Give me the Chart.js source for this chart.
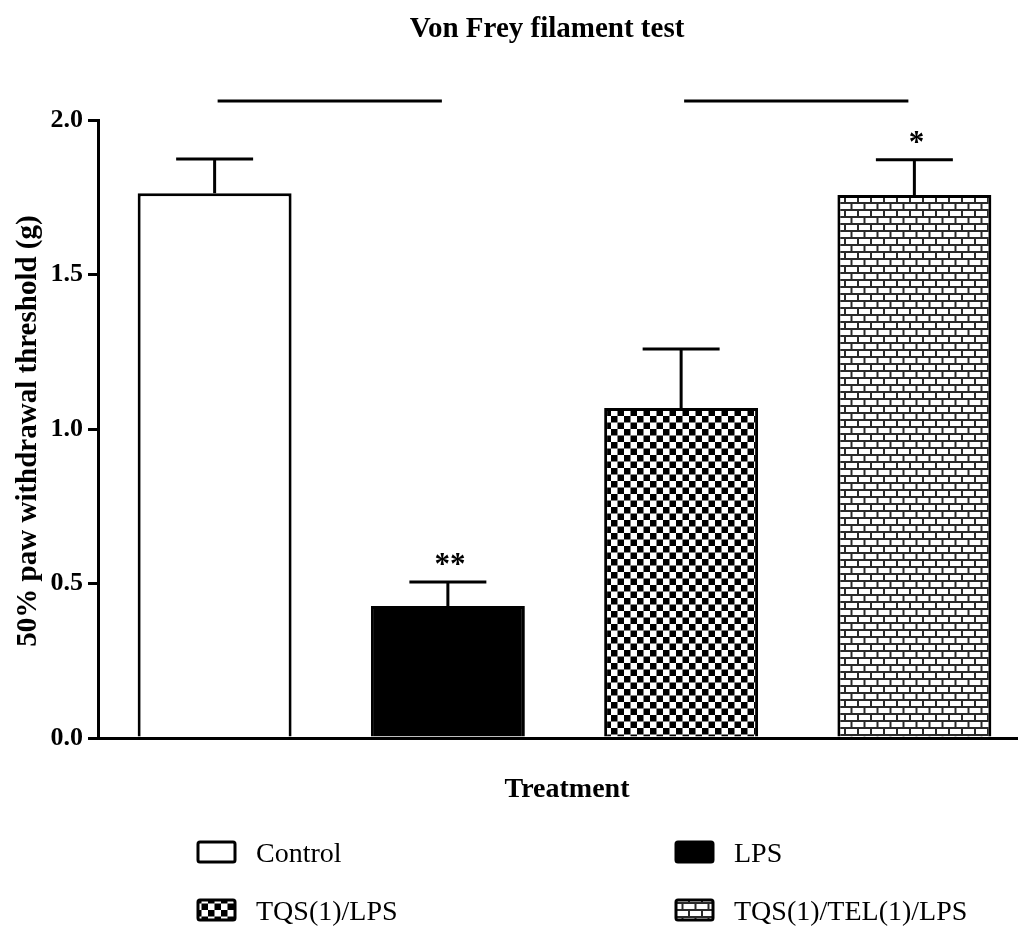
<!DOCTYPE html>
<html>
<head>
<meta charset="utf-8">
<script src="https://cdn.jsdelivr.net/npm/chart.js"></script>
<style>
  body { margin: 0; background: #fff; }
  #wrap { width: 1018px; height: 928px; overflow: hidden; }
</style>
</head>
<body>
<div id="wrap">
  <canvas id="vonfrey" width="1050" height="928" style="width:1050px;height:928px"></canvas>
</div>
<script>
const treatments = ['Control', 'LPS', 'TQS(1)/LPS', 'TQS(1)/TEL(1)/LPS'];
const thresholds = [1.763, 0.427, 1.068, 1.757];
const sem = [0.111, 0.078, 0.191, 0.114];
const marks = ['', '**', '', '*'];
const brackets = [[0, 1], [2, 3]];
const yTicks = [0, 0.5, 1.0, 1.5, 2.0];

const serif = "'Liberation Serif', 'Times New Roman', serif";

// fill patterns for the bars
function checkerPattern() {
  let c = document.createElement('canvas');
  c.width = 13; c.height = 13;
  let g = c.getContext('2d');
  g.fillStyle = '#fff';
  g.fillRect(0, 0, 13, 13);
  g.fillStyle = '#000';
  g.fillRect(0, 0, 6.5, 6.5);
  g.fillRect(6.5, 6.5, 6.5, 6.5);
  return g.createPattern(c, 'repeat');
}

function brickPattern() {
  let c = document.createElement('canvas');
  c.width = 13; c.height = 14;
  let g = c.getContext('2d');
  g.fillStyle = '#2a2a2a';
  g.fillRect(0, 0, 13, 14);
  g.fillStyle = '#fff';
  g.fillRect(1, 1, 11, 5);
  g.fillRect(7.5, 8, 11, 5);
  g.fillRect(-5.5, 8, 11, 5);
  return g.createPattern(c, 'repeat');
}

const fills = ['#ffffff', '#000000', checkerPattern(), brickPattern()];

// error bars (upper half only), asterisks and the comparison lines
const errorBars = {
  id: 'errorBars',
  afterDatasetsDraw(chart) {
    const ctx = chart.ctx;
    const y = chart.scales.y;
    const bars = chart.getDatasetMeta(0).data;
    ctx.save();
    ctx.strokeStyle = '#000';
    ctx.lineWidth = 3;
    bars.forEach((bar, i) => {
      const top = y.getPixelForValue(thresholds[i]);
      const errTop = y.getPixelForValue(thresholds[i] + sem[i]);
      const half = bar.width / 4;
      ctx.beginPath();
      ctx.moveTo(bar.x, top);
      ctx.lineTo(bar.x, errTop);
      ctx.moveTo(bar.x - half, errTop);
      ctx.lineTo(bar.x + half, errTop);
      ctx.stroke();
      if (marks[i]) {
        ctx.fillStyle = '#000';
        ctx.font = 'bold 31px ' + serif;
        ctx.textAlign = 'center';
        ctx.textBaseline = 'alphabetic';
        ctx.fillText(marks[i], bar.x + 2, errTop - 8);
      }
    });
    const lineY = chart.chartArea.top - 19;
    brackets.forEach(([a, b]) => {
      ctx.beginPath();
      ctx.moveTo(bars[a].x + 3, lineY);
      ctx.lineTo(bars[b].x - 6, lineY);
      ctx.stroke();
    });
    ctx.restore();
  }
};

// titles and the two-column legend underneath
const labelsAndLegend = {
  id: 'labelsAndLegend',
  afterDraw(chart) {
    const ctx = chart.ctx;
    const area = chart.chartArea;
    ctx.save();
    ctx.fillStyle = '#000';
    ctx.textBaseline = 'alphabetic';

    ctx.font = 'bold 29px ' + serif;
    ctx.textAlign = 'center';
    ctx.fillText('Von Frey filament test', 547, 37);
    ctx.font = 'bold 28px ' + serif;
    ctx.fillText('Treatment', 567, 797);

    ctx.save();
    ctx.translate(36, (area.top + area.bottom) / 2 + 2);
    ctx.rotate(-Math.PI / 2);
    ctx.font = 'bold 29px ' + serif;
    ctx.fillText('50% paw withdrawal threshold (g)', 0, 0);
    ctx.restore();

    const colX = [198, 676];
    const rowY = [842, 900];
    ctx.textAlign = 'left';
    ctx.font = '28px ' + serif;
    treatments.forEach((name, i) => {
      const x = colX[i % 2];
      const yTop = rowY[Math.floor(i / 2)];
      ctx.fillStyle = fills[i];
      ctx.beginPath();
      ctx.roundRect(x, yTop, 37, 20, 2);
      ctx.fill();
      ctx.lineWidth = 3;
      ctx.strokeStyle = '#000';
      ctx.stroke();
      ctx.fillStyle = '#000';
      ctx.fillText(name, x + 58, yTop + 20);
    });
    ctx.restore();
  }
};

new Chart(document.getElementById('vonfrey'), {
  type: 'bar',
  data: {
    labels: treatments,
    datasets: [{
      data: thresholds,
      backgroundColor: fills,
      borderColor: '#000',
      borderWidth: 3,
      categoryPercentage: 1,
      barPercentage: 0.66
    }]
  },
  options: {
    responsive: false,
    animation: false,
    devicePixelRatio: 1,
    layout: {
      padding: { top: 120, right: 19, left: 0, bottom: 0 }
    },
    plugins: {
      legend: { display: false },
      title: { display: false },
      tooltip: { enabled: false }
    },
    scales: {
      x: {
        grid: { display: false },
        ticks: { display: false },
        border: { display: true, color: '#000', width: 3 },
        afterFit(scale) { scale.height = 190; }
      },
      y: {
        min: 0,
        max: 2,
        afterBuildTicks(scale) {
          scale.ticks = yTicks.map(v => ({ value: v }));
        },
        grid: {
          drawOnChartArea: false,
          drawTicks: true,
          tickLength: 10,
          color: '#000',
          lineWidth: 3
        },
        border: { display: true, color: '#000', width: 3 },
        ticks: {
          padding: 5,
          color: '#000',
          font: { family: serif, size: 26, weight: 'bold' },
          callback: v => v.toFixed(1)
        },
        afterFit(scale) { scale.width = 98; }
      }
    }
  },
  plugins: [errorBars, labelsAndLegend]
});
</script>
</body>
</html>
